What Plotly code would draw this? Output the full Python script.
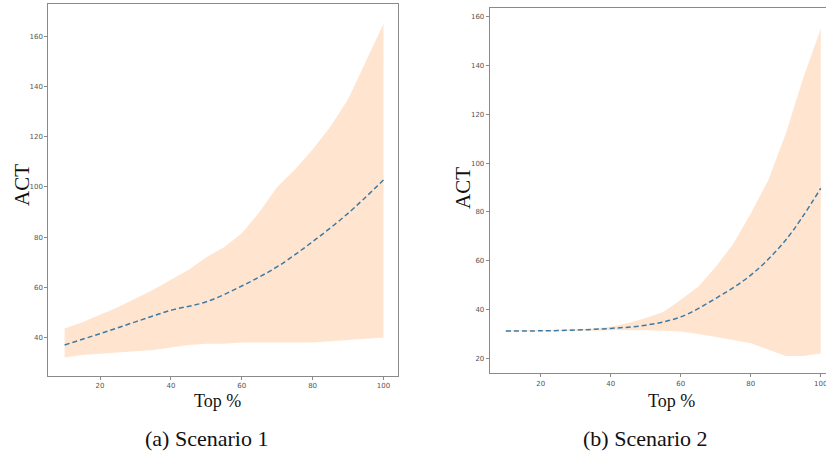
import plotly.graph_objects as go

W, H = 826, 455

# ---------------- data ----------------
top_mean = [10, 20, 30, 40, 50, 60, 70, 80, 90, 100]
top_band = [10, 15, 20, 25, 30, 35, 40, 45, 50, 55, 60, 65, 70, 75, 80, 85, 90, 95, 100]

s1_mean = [37.0, 41.5, 46.2, 50.8, 54.2, 60.5, 68.2, 78.2, 89.5, 102.8]
s1_upper = [43.5, 46, 49, 52, 55.5, 59, 63, 67, 72, 76, 81.5, 90, 100, 107, 115, 124, 135, 150, 165]
s1_lower = [32, 33, 33.5, 34, 34.5, 35, 36, 37, 37.5, 37.5, 38, 38, 38, 38, 38, 38.5, 39, 39.5, 40]

s2_mean = [31.2, 31.3, 31.6, 32.3, 33.6, 37.0, 44.6, 54.1, 68.5, 89.7]
s2_upper = [31.5, 31.5, 31.6, 31.7, 31.9, 32.2, 33, 34.5, 36.5, 39, 44, 49.4, 57.5, 67, 79.4, 93, 112, 135, 155]
s2_lower = [31, 31, 31, 31.1, 31.2, 31.3, 31.5, 31.6, 31.5, 31.3, 31, 30, 28.9, 27.5, 26.2, 23.5, 21, 21, 22]

x_ticks = [20, 40, 60, 80, 100]
y_ticks1 = [40, 60, 80, 100, 120, 140, 160]
y_ticks2 = [20, 40, 60, 80, 100, 120, 140, 160]

x_title = "Top %"
y_title = "ACT"
captions = ["(a) Scenario 1", "(b) Scenario 2"]

# ---------------- styling ----------------
band_fill = "rgba(255,127,14,0.2)"
line_col = "#3b7ba6"
spine_col = "#8a8a8a"
serif = "Liberation Serif, Times New Roman, serif"
sans = "DejaVu Sans, sans-serif"

def px(x):
    return min(1.0, x / W)

def py(y):
    return 1 - y / H

fig = go.Figure()

panels = [
    (s1_mean, s1_upper, s1_lower, "x", "y"),
    (s2_mean, s2_upper, s2_lower, "x2", "y2"),
]
for mean, up, lo, xa, ya in panels:
    fig.add_trace(go.Scatter(x=top_band, y=lo, mode="lines", line=dict(width=0),
                             xaxis=xa, yaxis=ya, showlegend=False, hoverinfo="skip"))
    fig.add_trace(go.Scatter(x=top_band, y=up, mode="lines", line=dict(width=0),
                             fill="tonexty", fillcolor=band_fill,
                             xaxis=xa, yaxis=ya, showlegend=False, hoverinfo="skip"))
    fig.add_trace(go.Scatter(x=top_mean, y=mean, mode="lines",
                             line=dict(color=line_col, width=1.5, dash="5px,3px", shape="spline"),
                             xaxis=xa, yaxis=ya, showlegend=False))

axis_common = dict(showgrid=False, zeroline=False, showline=True, linecolor=spine_col,
                   linewidth=1, ticks="outside", ticklen=3, tickcolor=spine_col,
                   ticklabeloverflow="allow",
                   tickfont=dict(family=sans, size=7, color="#555555"))

fig.update_layout(
    width=W, height=H, margin=dict(l=0, r=0, t=0, b=0),
    paper_bgcolor="white", plot_bgcolor="white",
    xaxis=dict(domain=[px(48.3), px(398)], range=[5.4, 104.1], tickvals=x_ticks,
               mirror=True, anchor="y", **axis_common),
    yaxis=dict(domain=[py(376), py(4)], range=[24.6, 173], tickvals=y_ticks1,
               mirror=True, anchor="x", **axis_common),
    xaxis2=dict(domain=[px(489.7), 1.0], range=[5.4, 101.5], tickvals=x_ticks,
                mirror=True, anchor="y2", **axis_common),
    yaxis2=dict(domain=[py(373.3), py(8.3)], range=[13.9, 163.4], tickvals=y_ticks2,
                mirror=False, anchor="x2", **axis_common),
)

ann = []
ann.append(dict(x=px(22), y=py(185), text=y_title, textangle=-90,
                font=dict(family=serif, size=21, color="#111")))
ann.append(dict(x=px(463), y=py(188), text=y_title, textangle=-90,
                font=dict(family=serif, size=21, color="#111")))
ann.append(dict(x=px(218), y=py(401), text=x_title, font=dict(family=serif, size=18, color="#111")))
ann.append(dict(x=px(671), y=py(401), text=x_title, font=dict(family=serif, size=18, color="#111")))
ann.append(dict(x=px(206), y=py(438), text=captions[0], font=dict(family=serif, size=22, color="#111")))
ann.append(dict(x=px(645), y=py(438), text=captions[1], font=dict(family=serif, size=22, color="#111")))

for a in ann:
    a.update(xref="paper", yref="paper", showarrow=False, xanchor="center", yanchor="middle")
fig.update_layout(annotations=ann)

fig.write_html("out.html", config={"displayModeBar": False},
               post_script="document.body.style.margin='0';document.body.style.overflow='hidden';")
